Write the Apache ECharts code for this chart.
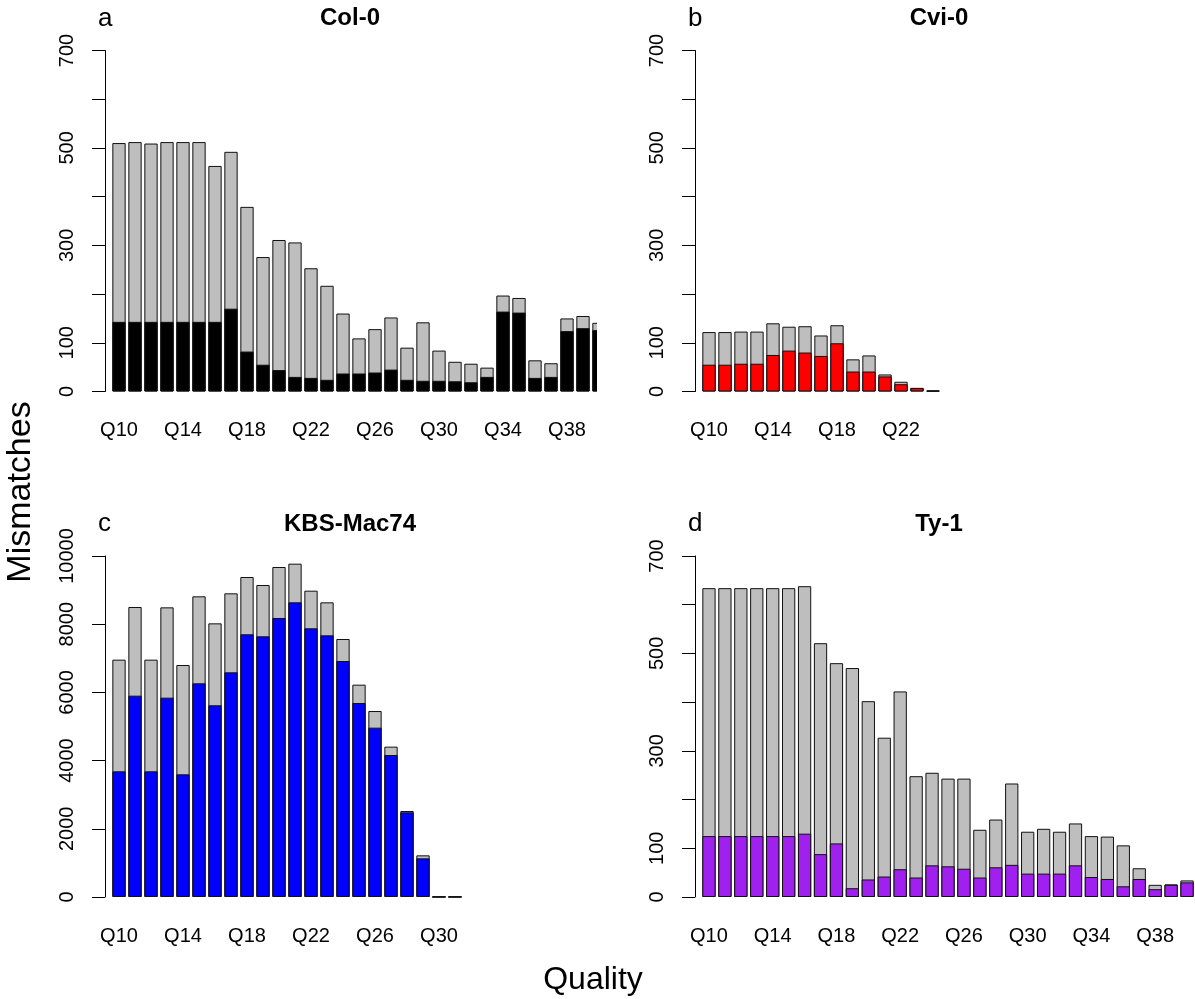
<!DOCTYPE html>
<html>
<head>
<meta charset="utf-8">
<script src="https://cdn.jsdelivr.net/npm/echarts@6/dist/echarts.min.js"></script>
<style>
  html, body { margin: 0; padding: 0; background: #fff; }
  #chart { width: 1195px; height: 999px; }
</style>
</head>
<body>
<div id="chart"></div>
<script>
// quality bins, Q10 .. Q40
const qualityLabels = [
  'Q10', 'Q11', 'Q12', 'Q13', 'Q14', 'Q15', 'Q16', 'Q17', 'Q18', 'Q19', 'Q20',
  'Q21', 'Q22', 'Q23', 'Q24', 'Q25', 'Q26', 'Q27', 'Q28', 'Q29', 'Q30',
  'Q31', 'Q32', 'Q33', 'Q34', 'Q35', 'Q36', 'Q37', 'Q38', 'Q39', 'Q40',
];

// a: Col-0 (Q10..Q40)
const colTotal = [510, 512, 509, 512, 512, 512, 463, 492, 379, 276, 311, 306, 253, 217, 160, 109,
  128, 152, 90, 142, 84, 61, 57, 49, 197, 192, 64, 58, 150, 155, 141];
const colSub = [143, 143, 143, 143, 143, 143, 143, 170, 82, 55, 44, 30, 28, 24, 37, 37,
  39, 45, 24, 22, 22, 21, 19, 30, 164, 162, 28, 30, 124, 130, 126];

// b: Cvi-0 (Q10..Q24)
const cviTotal = [122, 122, 123, 123, 140, 133, 134, 115, 136, 66, 74, 35, 20, 7.5, 2];
const cviSub = [55, 55, 57, 57, 75, 84, 80, 73, 99, 41, 41, 31, 15, 7, 1.5];

// c: KBS-Mac74 (Q10..Q31)
const kbsTotal = [6960, 8504, 6960, 8494, 6803, 8817, 8025, 8905, 9384, 9149, 9677, 9775,
  8983, 8641, 7566, 6227, 5454, 4409, 2522, 1222, 10, 10];
const kbsSub = [3685, 5904, 3685, 5845, 3597, 6266, 5621, 6588, 7703, 7644, 8182, 8641,
  7879, 7673, 6921, 5689, 4966, 4164, 2483, 1134, 0, 0];

// d: Ty-1 (Q10..Q40)
const tyTotal = [634, 634, 634, 634, 634, 634, 638, 521, 480, 470, 402, 327, 422, 248, 255, 243,
  243, 138, 159, 233, 134, 140, 134, 151, 125, 124, 106, 59, 25, 26, 34];
const tySub = [125, 125, 125, 125, 125, 125, 130, 88, 110, 18, 36, 42, 57, 40, 65, 63,
  58, 40, 61, 66, 48, 48, 48, 65, 41, 37, 22, 37, 16, 25, 30];

// y tick labels that R kept
const smallTickLabels = [0, 100, 300, 500, 700];

const panels = [
  { letter: 'a', title: 'Col-0', total: colTotal, sub: colSub, color: '#000000', max: 700, interval: 100 },
  { letter: 'b', title: 'Cvi-0', total: cviTotal, sub: cviSub, color: '#ff0000', max: 700, interval: 100 },
  { letter: 'c', title: 'KBS-Mac74', total: kbsTotal, sub: kbsSub, color: '#0000ff', max: 10000, interval: 2000 },
  { letter: 'd', title: 'Ty-1', total: tyTotal, sub: tySub, color: '#a020f0', max: 700, interval: 100 },
];

const font = '"Liberation Sans", Arial, Helvetica, sans-serif';
const band = 16;
const rows = [50.5, 556];
const cols = [111, 701];

const grid = [];
const xAxis = [];
const yAxis = [];
const series = [];
const graphic = [];

panels.forEach((p, i) => {
  const left = cols[i % 2];
  const top = rows[Math.floor(i / 2)];
  const cats = qualityLabels.slice(0, p.total.length);

  grid.push({ left, top, width: cats.length * band, height: 341 });

  xAxis.push({
    type: 'category',
    gridIndex: i,
    data: cats,
    axisLine: { show: false },
    axisTick: { show: false },
    axisLabel: {
      interval: 3,
      margin: 29,
      color: '#000',
      fontFamily: font,
      fontSize: 20,
    },
  });

  yAxis.push({
    type: 'value',
    gridIndex: i,
    min: 0,
    max: p.max,
    interval: p.interval,
    offset: 6,
    splitLine: { show: false },
    axisLine: { show: true, lineStyle: { color: '#000', width: 1 } },
    axisTick: { show: true, length: 13, lineStyle: { color: '#000' } },
    axisLabel: {
      rotate: 90,
      margin: 28,
      color: '#000',
      fontFamily: font,
      fontSize: 20,
      formatter: (v) => (p.max === 700 && smallTickLabels.indexOf(v) < 0 ? '' : String(v)),
    },
  });

  const barStyle = { borderColor: '#111', borderWidth: 1 };
  series.push({
    type: 'bar',
    xAxisIndex: i,
    yAxisIndex: i,
    data: p.total,
    barWidth: '83.3%',
    itemStyle: Object.assign({ color: '#bebebe' }, barStyle),
    silent: true,
    animation: false,
  });
  series.push({
    type: 'bar',
    xAxisIndex: i,
    yAxisIndex: i,
    data: p.sub,
    barWidth: '83.3%',
    barGap: '-100%',
    itemStyle: Object.assign({ color: p.color }, barStyle),
    silent: true,
    animation: false,
  });

  // panel letter and title
  graphic.push({
    type: 'text',
    left: left - 13,
    top: top - 45,
    style: { text: p.letter, font: '26px ' + font, fill: '#000' },
  });
  graphic.push({
    type: 'text',
    x: left + (i % 2 === 0 ? 239 : 238),
    y: top - 32,
    style: {
      text: p.title,
      font: 'bold 24px ' + font,
      fill: '#000',
      align: 'center',
      verticalAlign: 'middle',
    },
  });
});

// panel a's plot region ends at the half-width line; hide what runs past it
graphic.push({
  type: 'rect',
  shape: { x: 597, y: 30, width: 40, height: 380 },
  style: { fill: '#fff' },
  z: 100,
});

// shared axis titles
graphic.push({
  type: 'text',
  x: 21,
  y: 492,
  rotation: Math.PI / 2,
  style: {
    text: 'Mismatches',
    font: '34px ' + font,
    fill: '#000',
    align: 'center',
    verticalAlign: 'middle',
  },
});
graphic.push({
  type: 'text',
  x: 593,
  y: 980,
  style: {
    text: 'Quality',
    font: '32px ' + font,
    fill: '#000',
    align: 'center',
    verticalAlign: 'middle',
  },
});

const chart = echarts.init(document.getElementById('chart'), null, { renderer: 'canvas' });
chart.setOption({
  backgroundColor: '#fff',
  animation: false,
  grid,
  xAxis,
  yAxis,
  series,
  graphic,
});
</script>
</body>
</html>
